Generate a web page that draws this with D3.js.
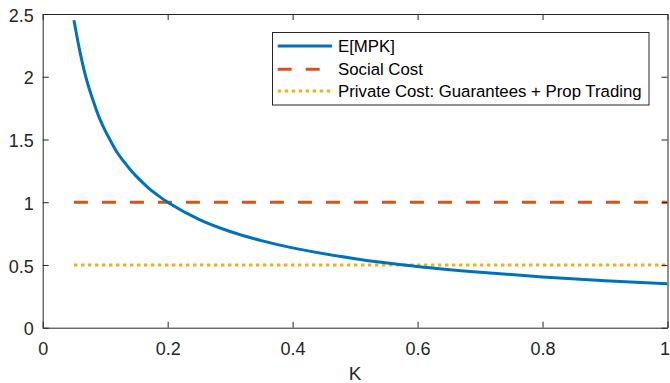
<!DOCTYPE html>
<html>
<head>
<meta charset="utf-8">
<script src="https://cdn.jsdelivr.net/npm/d3@7"></script>
<style>
  html, body { margin: 0; padding: 0; background: #fff; }
  svg { display: block; font-family: "Liberation Sans", Arial, Helvetica, sans-serif; }
</style>
</head>
<body>
<svg id="chart" width="670" height="383"></svg>
<script>
// ---- data ----
const kValues   = [0.05, 0.06, 0.07, 0.08, 0.09, 0.10, 0.11, 0.12, 0.13, 0.14, 0.15, 0.17, 0.18, 0.20, 0.25, 0.30, 0.35, 0.40, 0.50, 0.60, 0.70, 0.80, 0.90, 1.00];
const mpkValues = [2.45, 2.19, 1.98, 1.82, 1.68, 1.57, 1.476, 1.39, 1.323, 1.261, 1.206, 1.111, 1.071, 1.00, 0.864, 0.767, 0.694, 0.636, 0.55, 0.488, 0.442, 0.405, 0.375, 0.35];
const socialCostK = [0.05, 1.0];
const socialCost  = [1.0, 1.0];
const privateCostK = [0.05, 1.0];
const privateCost  = [0.5, 0.5];
const xTicks = [0, 0.2, 0.4, 0.6, 0.8, 1];
const yTicks = [0, 0.5, 1, 1.5, 2, 2.5];
const xTickLabels = ["0", "0.2", "0.4", "0.6", "0.8", "1"];
const yTickLabels = ["0", "0.5", "1", "1.5", "2", "2.5"];
const seriesNames = ["E[MPK]", "Social Cost", "Private Cost: Guarantees + Prop Trading"];
const seriesColors = ["#0072BD", "#D95319", "#EDB120"];
const seriesDash = [null, "14,14", "3.5,3.5"];
const xLabel = "K";

// ---- layout ----
const svg = d3.select("#chart");
const L = 42.7, R = 667.5, T = 14, B = 327.7;
const axisColor = "#262626";

const x = d3.scaleLinear().domain([0, 1]).range([L, R]);
const y = d3.scaleLinear().domain([0, 2.5]).range([B, T]);

// clip
svg.append("defs").append("clipPath").attr("id", "clip")
  .append("rect").attr("x", L).attr("y", T).attr("width", R - L).attr("height", B - T);

// series
const line = d3.line().x(d => x(d[0])).y(d => y(d[1]));
const plot = svg.append("g").attr("clip-path", "url(#clip)");

plot.append("path")
  .datum(socialCostK.map((k, i) => [k, socialCost[i]]))
  .attr("d", line).attr("fill", "none")
  .attr("stroke", seriesColors[1]).attr("stroke-width", 3)
  .attr("stroke-dasharray", seriesDash[1]);

plot.append("path")
  .datum(privateCostK.map((k, i) => [k, privateCost[i]]))
  .attr("d", line).attr("fill", "none")
  .attr("stroke", seriesColors[2]).attr("stroke-width", 3)
  .attr("stroke-dasharray", seriesDash[2]);

plot.append("path")
  .datum(kValues.map((k, i) => [k, mpkValues[i]]))
  .attr("d", d3.line().x(d => x(d[0])).y(d => y(d[1])).curve(d3.curveCatmullRom.alpha(0.5)))
  .attr("fill", "none")
  .attr("stroke", seriesColors[0]).attr("stroke-width", 3);

// axes
const fmtX = (d, i) => xTickLabels[i];
const fmtY = (d, i) => yTickLabels[i];
const tickLen = 6;

const gx = svg.append("g").attr("transform", `translate(0,${B})`)
  .call(d3.axisBottom(x).tickValues(xTicks).tickFormat(fmtX).tickSizeInner(-tickLen).tickSizeOuter(0).tickPadding(15));
const gxTop = svg.append("g").attr("transform", `translate(0,${T})`)
  .call(d3.axisTop(x).tickValues(xTicks).tickFormat("").tickSizeInner(-tickLen).tickSizeOuter(0));
const gy = svg.append("g").attr("transform", `translate(${L},0)`)
  .call(d3.axisLeft(y).tickValues(yTicks).tickFormat(fmtY).tickSizeInner(-tickLen).tickSizeOuter(0).tickPadding(9));
const gyR = svg.append("g").attr("transform", `translate(${R},0)`)
  .call(d3.axisRight(y).tickValues(yTicks).tickFormat("").tickSizeInner(-tickLen).tickSizeOuter(0));

[gx, gxTop, gy, gyR].forEach(g => {
  g.selectAll(".domain").attr("stroke", axisColor).attr("stroke-width", 1);
  g.selectAll(".tick line").attr("stroke", axisColor).attr("stroke-width", 1);
  g.selectAll("text").attr("fill", axisColor).attr("font-size", 18)
    .attr("font-family", "'Liberation Sans', Arial, sans-serif");
});
gy.selectAll("text").attr("dy", "0.4em");
// keep the last x tick label inside the canvas, as in the reference
gx.selectAll(".tick text").filter(d => d === 1).attr("dx", -3);

// x label
svg.append("text").attr("x", (L + R) / 2).attr("y", 380)
  .attr("text-anchor", "middle").attr("font-size", 19).attr("fill", axisColor)
  .text(xLabel);

// legend
const lg = svg.append("g");
lg.append("rect").attr("x", 272.5).attr("y", 32.5).attr("width", 376.5).attr("height", 72.5)
  .attr("fill", "#fff").attr("stroke", axisColor).attr("stroke-width", 1);
const rowsY = [46, 69.3, 91];
seriesNames.forEach((name, i) => {
  lg.append("line").attr("x1", 277.7).attr("x2", 332).attr("y1", rowsY[i]).attr("y2", rowsY[i])
    .attr("stroke", seriesColors[i]).attr("stroke-width", 3)
    .attr("stroke-dasharray", seriesDash[i]);
  lg.append("text").attr("x", 338).attr("y", rowsY[i]).attr("dy", "0.35em")
    .attr("font-size", 16.8).attr("fill", "#000").text(name);
});
</script>
</body>
</html>
